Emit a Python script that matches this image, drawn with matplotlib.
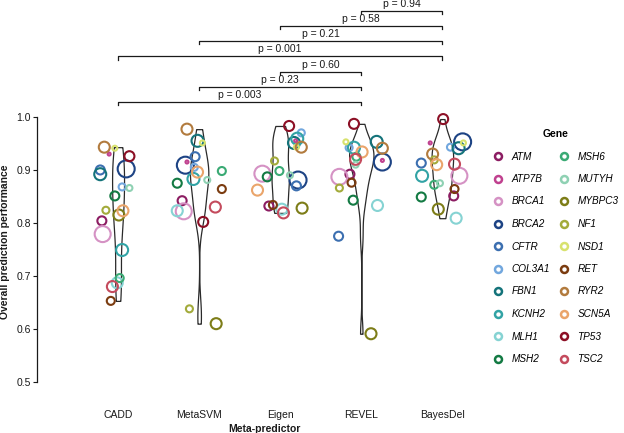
import matplotlib
matplotlib.use("Agg")
import matplotlib.pyplot as plt
import numpy as np
from matplotlib.lines import Line2D

plt.rcParams["font.family"] = ["Liberation Sans", "DejaVu Sans"]

W, H = 624, 433
INK = "#1a1a1a"

predictors = ["CADD", "MetaSVM", "Eigen", "REVEL", "BayesDel"]
genes = ["ATM", "ATP7B", "BRCA1", "BRCA2", "CFTR", "COL3A1", "FBN1", "KCNH2", "MLH1", "MSH2",
         "MSH6", "MUTYH", "MYBPC3", "NF1", "NSD1", "RET", "RYR2", "SCN5A", "TP53", "TSC2"]
gene_colors = ["#8c1d62", "#c0418f", "#d592c4", "#1d4384", "#3c6fb0", "#72a7de", "#14737a",
               "#32a3a5", "#86d3d3", "#137a43", "#3aaa74", "#8fd1b3", "#7d7d18", "#a3ab3b",
               "#d8e26e", "#7b3c10", "#b27b3e", "#eaa56b", "#8c0f25", "#c44b5d"]
# ring size per gene (outer diameter in px)
gene_size = [11, 5, 18, 19, 11, 9, 14, 14, 13, 11, 10, 8, 13, 9, 7, 10, 13, 13, 12, 13]

# overall prediction performance, gene order as above
cadd = [0.804, 0.930, 0.779, 0.902, 0.900, 0.868, 0.892, 0.749, 0.687, 0.851,
        0.696, 0.866, 0.815, 0.824, 0.941, 0.653, 0.943, 0.823, 0.926, 0.680]
metasvm = [0.842, 0.915, 0.822, 0.909, 0.925, 0.905, 0.955, 0.883, 0.823, 0.875,
           0.898, 0.881, 0.610, 0.638, 0.951, 0.864, 0.977, 0.896, 0.802, 0.830]
eigen = [0.832, 0.955, 0.893, 0.881, 0.870, 0.970, 0.951, 0.959, 0.826, 0.887,
         0.898, 0.890, 0.828, 0.917, 0.943, 0.834, 0.943, 0.862, 0.983, 0.819]
revel = [0.892, 0.918, 0.887, 0.915, 0.775, 0.942, 0.953, 0.942, 0.833, 0.843,
         0.925, 0.910, 0.591, 0.866, 0.953, 0.876, 0.941, 0.934, 0.987, 0.920]
bayesdel = [0.851, 0.951, 0.889, 0.953, 0.913, 0.943, 0.941, 0.889, 0.809, 0.849,
            0.872, 0.875, 0.826, 0.919, 0.951, 0.864, 0.930, 0.910, 0.996, 0.911]

p_pairs = [("CADD", "REVEL"), ("MetaSVM", "REVEL"), ("Eigen", "REVEL"),
           ("CADD", "BayesDel"), ("MetaSVM", "BayesDel"), ("Eigen", "BayesDel"),
           ("REVEL", "BayesDel")]
p_values = ["0.003", "0.23", "0.60", "0.001", "0.21", "0.58", "0.94"]

# horizontal jitter as seen in the picture (category units)
jit_cadd = [-0.20, -0.11, -0.19, 0.10, -0.22, 0.05, -0.22, 0.05, -0.01, -0.04,
            0.02, 0.14, 0.01, -0.15, -0.04, -0.09, -0.17, 0.06, 0.14, -0.07]
jit_metasvm = [-0.21, -0.15, -0.19, -0.17, -0.05, -0.06, -0.02, -0.07, -0.27, -0.27,
               0.28, 0.10, 0.21, -0.12, 0.04, 0.28, -0.15, -0.02, 0.05, 0.20]
jit_eigen = [-0.14, 0.19, -0.22, 0.22, 0.20, 0.26, 0.17, 0.21, 0.02, -0.16,
             -0.01, 0.12, 0.27, -0.07, 0.20, -0.09, 0.26, -0.28, 0.11, 0.04]
jit_revel = [-0.14, 0.26, -0.27, 0.26, -0.28, -0.15, 0.19, -0.09, 0.20, -0.10,
             -0.06, -0.07, 0.12, -0.27, -0.19, -0.12, 0.26, 0.01, -0.09, -0.07]
jit_bayesdel = [0.14, -0.15, 0.21, 0.25, -0.26, 0.10, 0.20, -0.25, 0.17, -0.26,
                -0.10, -0.03, -0.05, -0.10, 0.26, 0.15, -0.12, -0.07, 0.01, 0.15]

series = [cadd, metasvm, eigen, revel, bayesdel]
jitters = [jit_cadd, jit_metasvm, jit_eigen, jit_revel, jit_bayesdel]


def kde_nrd0(vals, grid):
    v = np.asarray(vals)
    iqr = np.subtract(*np.percentile(v, [75, 25]))
    bw = 0.9 * min(v.std(ddof=1), iqr / 1.34) * len(v) ** -0.2
    z = (grid[:, None] - v[None, :]) / bw
    return np.exp(-0.5 * z ** 2).sum(axis=1) / (len(v) * bw * np.sqrt(2 * np.pi))


fig = plt.figure(figsize=(W / 100, H / 100), dpi=100)
ax = fig.add_axes([37 / W, 1 - 400 / H, 454 / W, 397 / H])
ax.set_xlim(0, 5.6)
ax.set_ylim(0.466, 1.215)

# violins, area-scaled against the densest group
grids, dens = [], []
for vals in series:
    g = np.linspace(min(vals), max(vals), 512)
    grids.append(g)
    dens.append(kde_nrd0(vals, g))
k = 0.15 / max(d.max() for d in dens)
for i, (g, d) in enumerate(zip(grids, dens)):
    ax.fill_betweenx(g, i + 1 - d * k, i + 1 + d * k, facecolor="white",
                     edgecolor="#2a2a2a", lw=0.9, zorder=1)

# gene rings
sizes = [((d - 2) * 0.72) ** 2 for d in gene_size]
for i, (vals, jit) in enumerate(zip(series, jitters)):
    xs = [i + 1 + j for j in jit]
    ax.scatter(xs, vals, s=sizes, facecolors="none", edgecolors=gene_colors,
               linewidths=1.5, zorder=3, clip_on=False)

# significance brackets
for n, ((a, b), p) in enumerate(zip(p_pairs, p_values)):
    xa, xb = predictors.index(a) + 1, predictors.index(b) + 1
    yb = 1.028 + n * 0.0287
    ax.plot([xa, xa, xb, xb], [yb - 0.006, yb, yb, yb - 0.006], color=INK, lw=0.9,
            clip_on=False)
    ax.text((xa + xb) / 2, yb + 0.004, f"p = {p}", ha="center", va="bottom",
            fontsize=7.5, color=INK, clip_on=False)

for side in ("top", "right", "bottom"):
    ax.spines[side].set_visible(False)
ax.spines["left"].set_bounds(0.5, 1.0)
ax.spines["left"].set_linewidth(0.9)
ax.spines["left"].set_color(INK)
ax.set_yticks([0.5, 0.6, 0.7, 0.8, 0.9, 1.0])
ax.set_yticklabels(["0.5", "0.6", "0.7", "0.8", "0.9", "1.0"])
ax.tick_params(axis="y", length=3, width=0.8, labelsize=7.5, pad=1.5, colors=INK)
ax.set_xticks(range(1, 6))
ax.set_xticklabels(predictors)
ax.tick_params(axis="x", length=0, labelsize=7.5, pad=7, colors=INK)
ax.set_xlabel("Meta-predictor", fontweight="bold", fontsize=7.5, labelpad=3, color=INK)
fig.text(5 / W, 1 - 242 / H, "Overall prediction performance", rotation=90,
         ha="center", va="center", fontweight="bold", fontsize=7.5, color=INK)

handles = [Line2D([0], [0], marker="o", ls="none", mfc="none", mec=c, mew=1.8, ms=5)
           for c in gene_colors]
fig.legend(handles, genes, ncol=2, loc="upper left", bbox_to_anchor=(493 / W, 1 - 129 / H),
           frameon=False, prop=dict(style="italic", size=7.2), title="Gene",
           title_fontproperties=dict(weight="bold", size=7.5), handlelength=1.0,
           handletextpad=0.85, columnspacing=0.9, labelspacing=1.25, borderpad=0,
           borderaxespad=0)

fig.savefig("out.png", dpi=100)
